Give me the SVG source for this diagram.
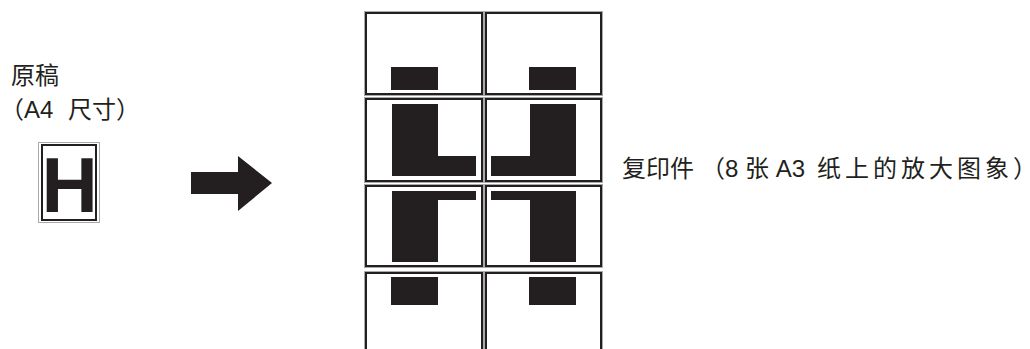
<svg xmlns="http://www.w3.org/2000/svg" width="1030" height="349" viewBox="0 0 1030 349">
<style>
.t{font-family:"Liberation Sans","Noto Sans CJK SC",sans-serif;fill:#231f20}
.frame{fill:#fff;stroke:#231f20;stroke-width:2}
.shade{fill:none;stroke:#a7a9ac;stroke-width:1}
.ink{fill:#231f20}
</style>
<rect width="1030" height="349" fill="#fff"/>
<g id="original-label">
<text class="t" x="11" y="84" font-size="24">原稿</text>
<text class="t" x="0" y="118" font-size="24">（A4 <tspan x="68">尺寸）</tspan></text>
</g>
<g id="original-page">
<rect class="shade" x="38.5" y="142.5" width="61" height="80"/>
<rect x="42" y="145" width="54" height="75" fill="none" stroke="#231f20" stroke-width="2"/>
<text x="41.5" y="212" font-family="Liberation Sans, Arial, sans-serif" font-weight="bold" font-size="78" fill="#231f20">H</text>
</g>
<g id="connectors">
<polygon class="ink" points="191,172 238,172 238,156 272,183 238,211 238,194 191,194"/>
</g>
<g id="tile-r1c1">
<rect class="shade" x="364.5" y="11.5" width="119" height="84"/>
<rect class="frame" x="366" y="13" width="116" height="81"/>
<rect class="ink" x="391" y="67" width="47" height="23"/>
</g>
<g id="tile-r1c2">
<rect class="shade" x="484.5" y="11.5" width="118" height="84"/>
<rect class="frame" x="486" y="13" width="115" height="81"/>
<rect class="ink" x="529" y="67" width="47" height="23"/>
</g>
<g id="tile-r2c1">
<rect class="shade" x="364.5" y="97.5" width="119" height="85"/>
<rect class="frame" x="366" y="99" width="116" height="82"/>
<polygon class="ink" points="392,104 438,104 438,156 476,156 476,176 392,176"/>
</g>
<g id="tile-r2c2">
<rect class="shade" x="484.5" y="97.5" width="118" height="85"/>
<rect class="frame" x="486" y="99" width="115" height="82"/>
<polygon class="ink" points="530,104 576,104 576,176 491,176 491,156 530,156"/>
</g>
<g id="tile-r3c1">
<rect class="shade" x="364.5" y="184.5" width="119" height="83"/>
<rect class="frame" x="366" y="186" width="116" height="80"/>
<polygon class="ink" points="392,191 476,191 476,200 438,200 438,262 392,262"/>
</g>
<g id="tile-r3c2">
<rect class="shade" x="484.5" y="184.5" width="118" height="83"/>
<rect class="frame" x="486" y="186" width="115" height="80"/>
<polygon class="ink" points="491,191 576,191 576,262 530,262 530,200 491,200"/>
</g>
<g id="tile-r4c1">
<rect class="shade" x="364.5" y="271.5" width="119" height="100"/>
<rect class="frame" x="366" y="273" width="116" height="100"/>
<rect class="ink" x="391" y="277" width="47" height="28"/>
</g>
<g id="tile-r4c2">
<rect class="shade" x="484.5" y="271.5" width="118" height="100"/>
<rect class="frame" x="486" y="273" width="115" height="100"/>
<rect class="ink" x="529" y="277" width="47" height="28"/>
</g>
<g id="copy-label">
<text class="t" x="622" y="177" font-size="24">复印件 <tspan x="701">（8 张 A3 </tspan><tspan x="817" letter-spacing="4">纸上的放大图象）</tspan></text>
</g>
</svg>
